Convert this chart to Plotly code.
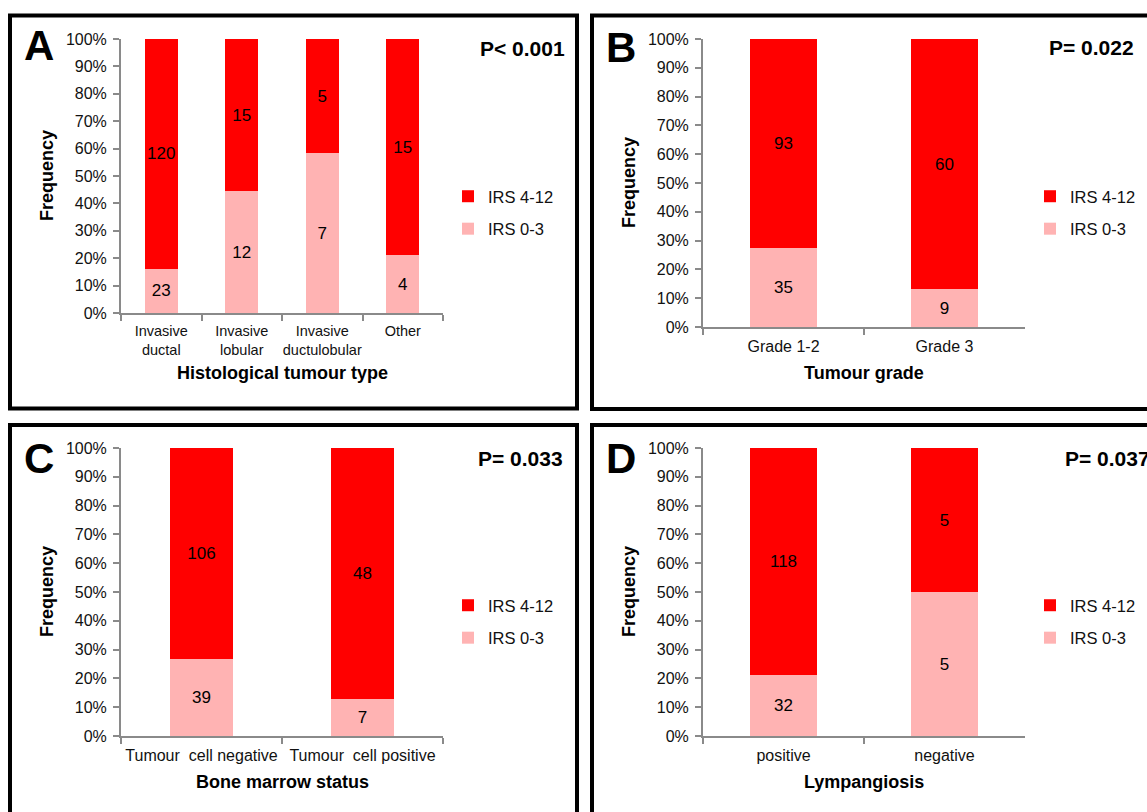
import plotly.graph_objects as go

W, H = 1147, 812

# ---- data -------------------------------------------------------------
panel_letters = ["A", "B", "C", "D"]
p_values = ["P< 0.001", "P= 0.022", "P= 0.033", "P= 0.037"]
x_titles = ["Histological tumour type", "Tumour grade",
            "Bone marrow status", "Lympangiosis"]

cats_a = ["Invasive<br>ductal", "Invasive<br>lobular",
          "Invasive<br>ductulobular", "Other"]
low_a = [23, 12, 7, 4]
high_a = [120, 15, 5, 15]

cats_b = ["Grade 1-2", "Grade 3"]
low_b = [35, 9]
high_b = [93, 60]

cats_c = ["Tumour\u00a0 cell negative", "Tumour\u00a0 cell positive"]
low_c = [39, 7]
high_c = [106, 48]

cats_d = ["positive", "negative"]
low_d = [32, 5]
high_d = [118, 5]

series_names = ["IRS 0-3", "IRS 4-12"]
y_ticks = list(range(0, 101, 10))
y_tick_text = [f"{v}%" for v in y_ticks]

# ---- styling ----------------------------------------------------------
FONT = "Liberation Sans, Arial, sans-serif"
RED = "#FF0000"
PINK = "#FFB3B3"
AXIS_GREY = "#8a8a8a"
TEXT = "#111111"


def px(x):
    return x / W


def py(y):
    return 1 - y / H


# pixel boxes of each plotting area: (left, right, top, bottom)
boxes = [(121, 443, 39, 313), (703, 1025, 39, 327),
         (121, 443, 448, 736), (703, 1025, 448, 736)]
bar_widths = [0.41, 0.41, 0.39, 0.41]
tick_sizes = [14.5, 16, 16, 16]
legend_pos = [(448, 179), (1030, 179), (448, 588), (1030, 588)]
p_pos = [(478, 48), (1047, 47), (476, 458), (1063, 458)]
letter_pos = [(39, 46), (621, 47), (39, 458), (621, 458)]
freq_pos = [(47, 176), (629, 183), (47, 592), (629, 592)]
xtitle_pos = [(282, 373), (864, 373), (282, 782), (864, 782)]
frames = [(10, 577, 15.5, 408.5), (592, 1170, 15.5, 409),
          (10, 577, 425, 830), (592, 1170, 425, 830)]

panels = [(cats_a, low_a, high_a), (cats_b, low_b, high_b),
          (cats_c, low_c, high_c), (cats_d, low_d, high_d)]

fig = go.Figure()
layout = dict(
    width=W, height=H,
    margin=dict(l=0, r=0, t=0, b=0),
    paper_bgcolor="white", plot_bgcolor="white",
    barmode="stack", barnorm="percent",
    font=dict(family=FONT, color=TEXT),
    annotations=[], shapes=[],
)

for i, (cats, low, high) in enumerate(panels):
    n = i + 1
    sfx = "" if n == 1 else str(n)
    leg = "legend" if n == 1 else f"legend{n}"
    # the upper series is listed first in the legend
    for name, vals, col, rank in ((series_names[0], low, PINK, 2),
                                  (series_names[1], high, RED, 1)):
        fig.add_trace(go.Bar(
            x=cats, y=vals, name=name,
            xaxis="x" + sfx, yaxis="y" + sfx,
            marker=dict(color=col, line=dict(width=0)),
            width=bar_widths[i],
            text=[str(v) for v in vals],
            textposition="inside", insidetextanchor="middle",
            textangle=0, constraintext="none",
            textfont=dict(size=17, color="black", family=FONT),
            legend=leg, legendgroup=f"{name}{n}", legendrank=rank,
            hoverinfo="skip",
        ))

    l, r, t, b = boxes[i]
    layout["xaxis" + sfx] = dict(
        domain=[px(l), px(r)], anchor="y" + sfx,
        type="category", range=[-0.5, len(cats) - 0.5],
        showline=True, linecolor=AXIS_GREY, linewidth=2,
        ticks="outside", tickson="boundaries", ticklen=6,
        tickwidth=2, tickcolor=AXIS_GREY, tickangle=0,
        ticklabelstandoff=4,
        tickfont=dict(size=tick_sizes[i], color=TEXT),
        showgrid=False, zeroline=False, automargin=False,
        fixedrange=True,
    )
    layout["yaxis" + sfx] = dict(
        domain=[py(b), py(t)], anchor="x" + sfx,
        range=[0, 100], tickmode="array",
        tickvals=y_ticks, ticktext=y_tick_text,
        showline=True, linecolor=AXIS_GREY, linewidth=2,
        ticks="outside", ticklen=6, tickwidth=2, tickcolor=AXIS_GREY,
        ticklabelstandoff=3,
        tickfont=dict(size=16, color=TEXT),
        showgrid=False, zeroline=False, automargin=False,
        fixedrange=True,
    )
    lx, ly = legend_pos[i]
    layout[leg] = dict(
        x=px(lx), y=py(ly), xanchor="left", yanchor="top",
        xref="paper", yref="paper",
        traceorder="grouped", tracegroupgap=8,
        font=dict(size=16.5, color=TEXT, family=FONT),
        bgcolor="rgba(0,0,0,0)", itemwidth=30,
        itemclick=False, itemdoubleclick=False,
    )

    # panel letter, p value and axis titles
    ax_, ay_ = letter_pos[i]
    layout["annotations"].append(dict(
        text=f"<b>{panel_letters[i]}</b>", x=px(ax_), y=py(ay_),
        xref="paper", yref="paper", xanchor="center", yanchor="middle",
        showarrow=False, font=dict(size=42, color="black", family=FONT)))
    pxx, pyy = p_pos[i]
    layout["annotations"].append(dict(
        text=f"<b>{p_values[i]}</b>", x=px(pxx), y=py(pyy),
        xref="paper", yref="paper", xanchor="left", yanchor="middle",
        showarrow=False, font=dict(size=21, color="black", family=FONT)))
    fx, fy = freq_pos[i]
    layout["annotations"].append(dict(
        text="<b>Frequency</b>", x=px(fx), y=py(fy), textangle=-90,
        xref="paper", yref="paper", xanchor="center", yanchor="middle",
        showarrow=False, font=dict(size=18, color="black", family=FONT)))
    tx, ty = xtitle_pos[i]
    layout["annotations"].append(dict(
        text=f"<b>{x_titles[i]}</b>", x=px(tx), y=py(ty),
        xref="paper", yref="paper", xanchor="center", yanchor="middle",
        showarrow=False, font=dict(size=18, color="black", family=FONT)))

    # black frame around the panel
    x0, x1, y0, y1 = frames[i]
    layout["shapes"].append(dict(
        type="rect", xref="paper", yref="paper",
        x0=px(x0), x1=px(x1), y0=py(y1), y1=py(y0),
        line=dict(color="black", width=4), fillcolor="rgba(0,0,0,0)",
        layer="above"))

fig.update_layout(**layout)
fig.write_html("out.html", config={"displayModeBar": False})
